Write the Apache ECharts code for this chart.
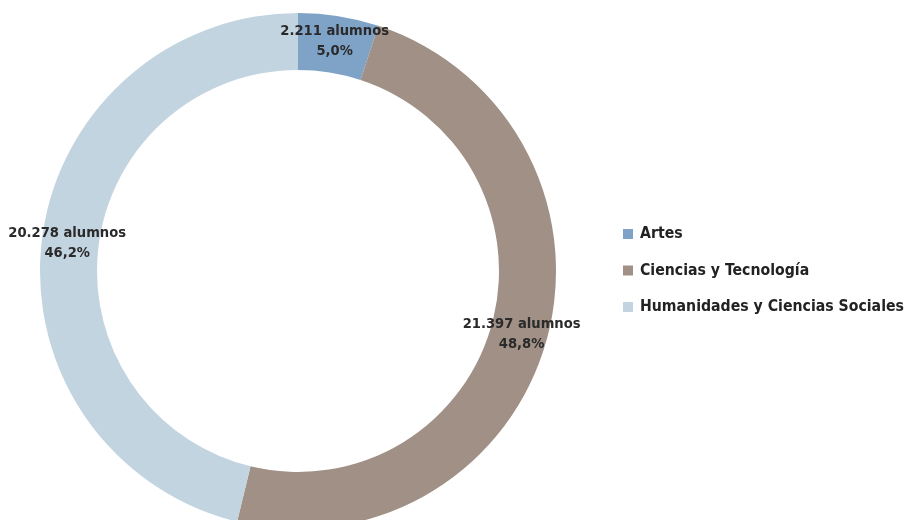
<!DOCTYPE html>
<html>
<head>
<meta charset="utf-8">
<script src="https://cdn.jsdelivr.net/npm/echarts@6/dist/echarts.min.js"></script>
<style>
html,body{margin:0;padding:0;background:#fff;}
#c{width:910px;height:520px;}
</style>
</head>
<body>
<div id="c"></div>
<script>
const categories = ['Artes', 'Ciencias y Tecnología', 'Humanidades y Ciencias Sociales'];
const values = [2211, 21397, 20278];
const valueLabels = ['2.211', '21.397', '20.278'];
const percentLabels = ['5,0%', '48,8%', '46,2%'];
const colors = ['#7fa3c6', '#a09086', '#c3d4e1'];

const FONT = '"Liberation Sans Narrow", "DejaVu Sans Condensed", "Liberation Sans", sans-serif';

const chart = echarts.init(document.getElementById('c'));
chart.setOption({
  animation: false,
  color: colors,
  legend: {
    orient: 'vertical',
    left: 623,
    top: 226,
    padding: 0,
    itemWidth: 10,
    itemHeight: 10,
    itemGap: 20.5,
    icon: 'rect',
    textStyle: { fontFamily: FONT, fontSize: 15.7, color: '#222', fontWeight: 'bold', padding: [0, 0, 0, 2] },
    data: categories
  },
  series: [{
    type: 'pie',
    center: [298, 271],
    radius: [201, 258],
    startAngle: 90,
    clockwise: true,
    avoidLabelOverlap: false,
    label: {
      show: true,
      position: 'inside',
      fontFamily: FONT,
      fontSize: 14.6,
      fontWeight: 'bold',
      color: '#2a2a2a',
      lineHeight: 20,
      formatter: p => valueLabels[p.dataIndex] + ' alumnos\n' + percentLabels[p.dataIndex]
    },
    labelLine: { show: false },
    itemStyle: { borderWidth: 0 },
    emphasis: { disabled: true },
    data: categories.map((c, i) => ({ name: c, value: values[i] }))
  }]
});
</script>
</body>
</html>
